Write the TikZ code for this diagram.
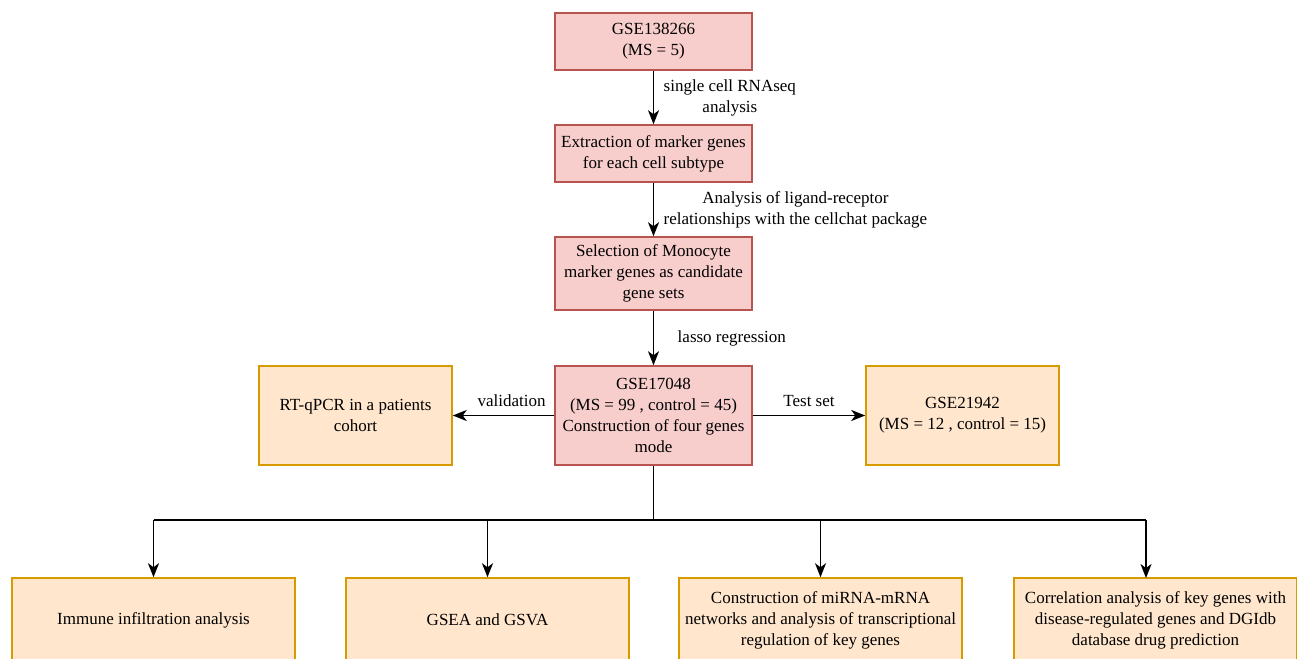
\documentclass[tikz,border=0pt]{standalone}
\usepackage{fontspec}
\setmainfont{Liberation Serif}
\usetikzlibrary{arrows.meta}
\definecolor{redfill}{HTML}{F8CECC}
\definecolor{redline}{HTML}{B85450}
\definecolor{orangefill}{HTML}{FFE6CC}
\definecolor{orangeline}{HTML}{D79B00}
\begin{document}
\begin{tikzpicture}[x=1pt,y=-1pt,>={Stealth[length=14pt,width=11pt,inset=4pt]},
		line width=1.8pt,font=\rmfamily\fontsize{17}{21}\selectfont,
		red node/.style={draw=redline,fill=redfill,line width=1.5pt,minimum width=197pt,align=center,inner sep=0pt},
		orange node/.style={draw=orangeline,fill=orangefill,line width=1.5pt,align=center,inner sep=0pt},
		side node/.style={orange node,minimum width=193pt,minimum height=99pt},
		task node/.style={orange node,minimum width=283pt,minimum height=84pt}]
		\useasboundingbox (0,0) rectangle (1297,658);
		% main column
		\node[red node,minimum height=57pt] (gse1) at (653.5,41.5) {GSE138266\\(MS = 5)};
		\node[red node,minimum height=57pt] (marker) at (653.5,153.5) {Extraction of marker genes\\for each cell subtype};
		\node[red node,minimum height=73pt] (mono) at (653.5,273.5) {Selection of Monocyte\\marker genes as candidate\\gene sets};
		\node[red node,minimum height=99pt] (gse2) at (653.5,415.5) {GSE17048\\(MS = 99 , control = 45)\\Construction of four genes\\mode};
		% side boxes
		\node[side node] (rtq) at (355.5,415.5) {RT-qPCR in a patients\\cohort};
		\node[side node] (gse3) at (962.5,415.5) {GSE21942\\(MS = 12 , control = 15)};
		% bottom boxes
		\node[task node] (immune) at (153.5,620) {Immune infiltration analysis};
		\node[task node] (gsea) at (487.5,620) {GSEA and GSVA};
		\node[task node] (mirna) at (820.5,620) {Construction of miRNA-mRNA\\networks and analysis of transcriptional\\regulation of key genes};
		\node[task node] (corr) at (1155.5,620) {Correlation analysis of key genes with\\disease-regulated genes and DGIdb\\database drug prediction};
		\path[->]
		(gse1) edge node[right,align=center,xshift=6pt] {single cell RNAseq\\analysis} (marker)
		(marker) edge node[right,align=center,xshift=6pt] {Analysis of ligand-receptor\\relationships with the cellchat package} (mono)
		(mono) edge node[right,xshift=20pt] {lasso regression} (gse2)
		(gse2) edge node[above,yshift=5pt,xshift=8pt] {validation} (rtq)
		(gse2) edge node[above,yshift=5pt] {Test set} (gse3);
		% branches to the bottom row
		\coordinate (split) at (653.5,520);
		\draw (gse2.south) -- (split);
		\draw (153.5,520) -- (1146,520);
		\draw[->] (153.5,520) -- (immune.north);
		\draw[->] (487.5,520) -- (gsea.north);
		\draw[->] (820.5,520) -- (mirna.north);
		\draw[->] (1146,520) -- (1146,578);
\end{tikzpicture}
\end{document}
